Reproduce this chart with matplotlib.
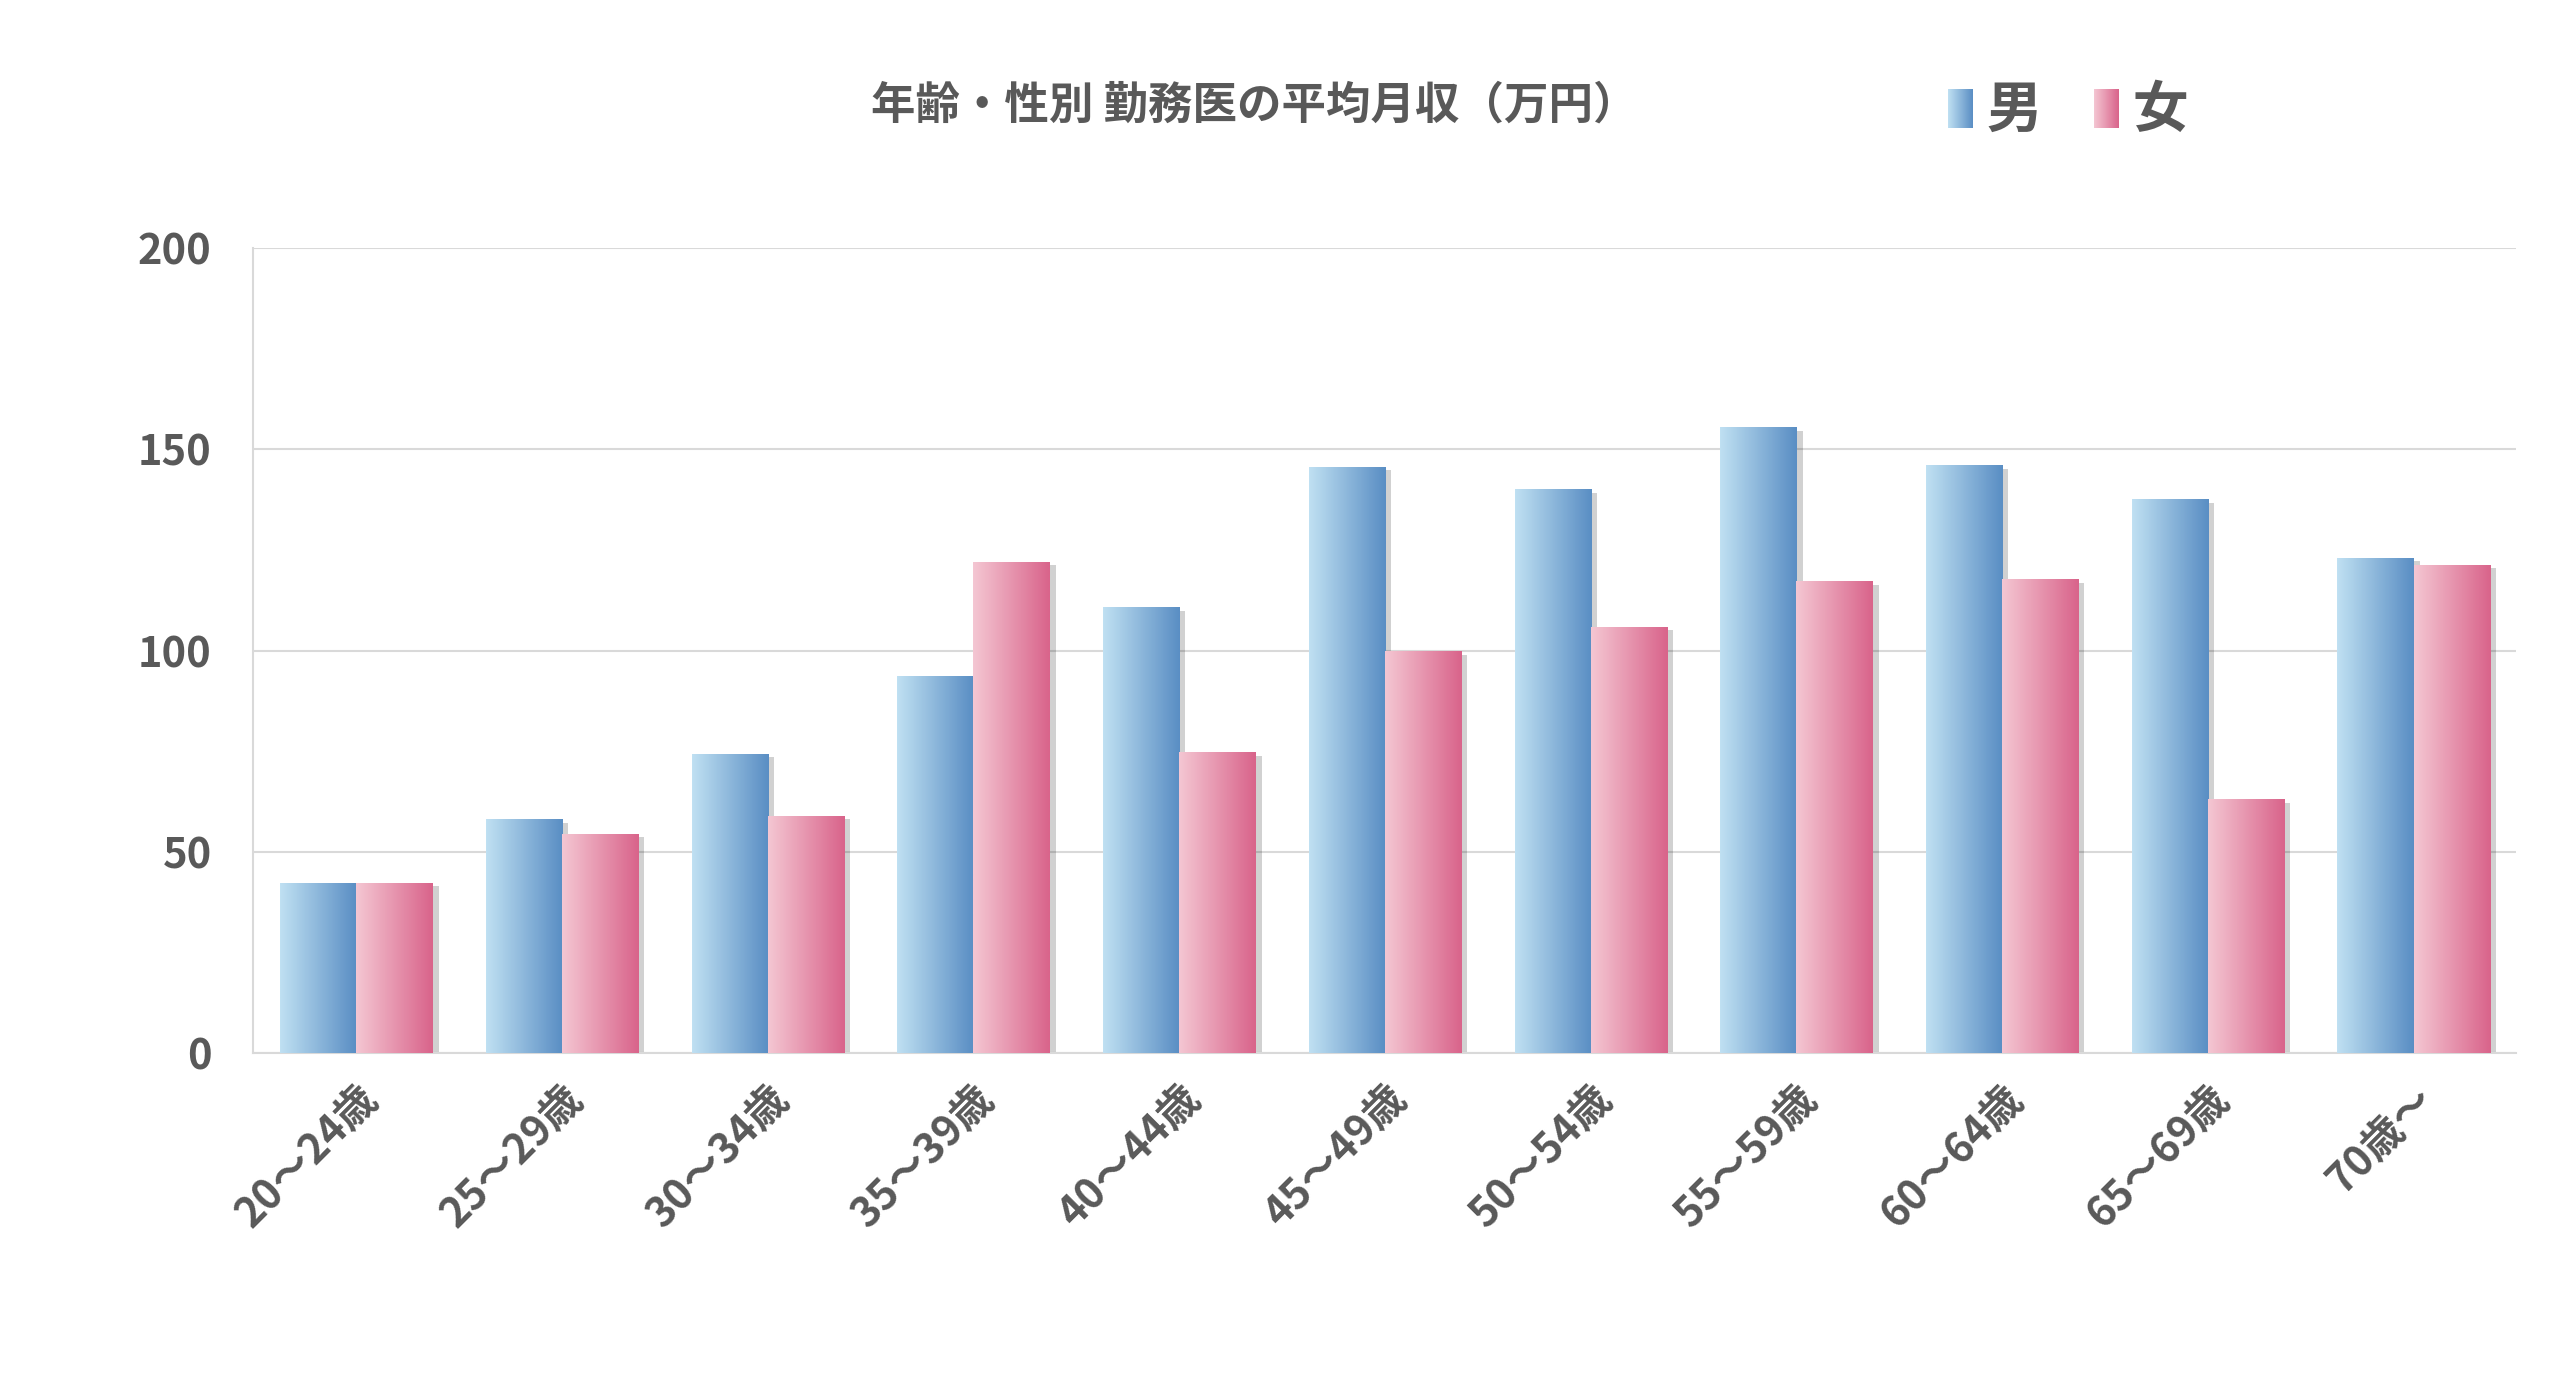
import numpy as np
import matplotlib.pyplot as plt
from matplotlib.colors import LinearSegmentedColormap
from matplotlib.patches import Rectangle

plt.rcParams['font.family'] = ['Noto Sans CJK JP', 'DejaVu Sans']
plt.rcParams['font.weight'] = 'bold'

categories = ['20～24歳', '25～29歳', '30～34歳', '35～39歳', '40～44歳', '45～49歳',
              '50～54歳', '55～59歳', '60～64歳', '65～69歳', '70歳～']
male = [42.2, 58.0, 74.2, 93.7, 110.7, 145.6, 140.0, 155.4, 146.0, 137.5, 123.0]
female = [42.2, 54.4, 58.8, 122.0, 74.6, 99.8, 105.9, 117.2, 117.6, 62.9, 121.3]

TXT = '#595959'
male_cmap = LinearSegmentedColormap.from_list('m', ['#bfe0f2', '#5a8ec4'])
female_cmap = LinearSegmentedColormap.from_list('f', ['#f4c6d2', '#d9648b'])
grad = np.linspace(0, 1, 64).reshape(1, -1)

fig = plt.figure(figsize=(25.6, 13.87), dpi=100)
ax = fig.add_axes([0.099, 0.241, 0.884, 0.58])
width = 0.37
x = np.arange(len(categories))

for i in x:
    for off, val, cmap in [(-width / 2, male[i], male_cmap), (width / 2, female[i], female_cmap)]:
        left = i + off - width / 2
        # soft shadow
        ax.add_patch(Rectangle((left + 0.03, 0), width, val - 0.8, color='#000000',
                               alpha=0.18, lw=0, zorder=2))
        ax.imshow(grad, cmap=cmap, aspect='auto', extent=(left, left + width, 0, val),
                  zorder=3)

ax.set_xlim(-0.5, len(categories) - 0.5)
ax.set_ylim(0, 200)
ax.set_yticks([0, 50, 100, 150, 200])
ax.yaxis.grid(True, color='#d9d9d9', lw=1.5)
ax.set_axisbelow(True)
for s in ['top', 'right']:
    ax.spines[s].set_visible(False)
ax.spines['left'].set_color('#d9d9d9')
ax.spines['bottom'].set_color('#d9d9d9')
ax.spines['left'].set_linewidth(1.5)
ax.spines['bottom'].set_linewidth(1.5)
ax.tick_params(length=0, labelsize=30, colors=TXT, pad=30)
ax.set_xticks(x)
ax.set_xticklabels(categories, rotation=45, ha='right', rotation_mode='anchor')
ax.tick_params(axis='x', pad=18)

fig.text(0.49, 0.924, '年齢・性別 勤務医の平均月収（万円）', ha='center', va='center',
         fontsize=32, color=TXT, fontweight='bold')
for xp, cmap, lab in [(0.761, male_cmap, '男'), (0.818, female_cmap, '女')]:
    lax = fig.add_axes([xp, 0.908, 0.0095, 0.028])
    lax.imshow(grad, cmap=cmap, aspect='auto')
    lax.axis('off')
    fig.text(xp + 0.015, 0.92, lab, ha='left', va='center', fontsize=40, color=TXT,
             fontweight='bold')

fig.savefig('out.png', dpi=100)
